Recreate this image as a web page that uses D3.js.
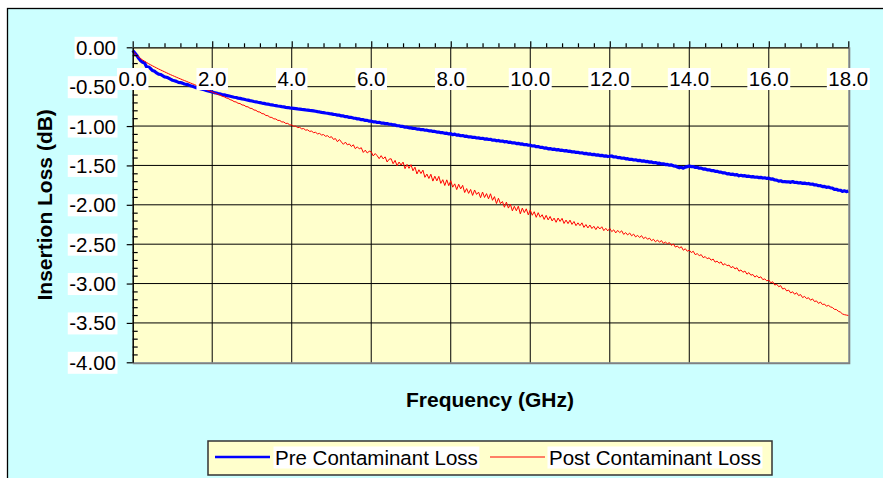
<!DOCTYPE html>
<html>
<head>
<meta charset="utf-8">
<script src="https://cdn.jsdelivr.net/npm/d3@7/dist/d3.min.js"></script>
<style>
  html, body { margin: 0; padding: 0; background: #ffffff; }
  svg { display: block; }
  text { font-family: "Liberation Sans", Arial, sans-serif; fill: #000; }
</style>
</head>
<body>
<svg id="chart" width="883" height="478"></svg>
<script>
// Insertion loss sweep, 0 - 18 GHz, one sample every 0.05 GHz
const freqStart = 0;
const freqStep = 0.05;

const seriesNames = ["Pre Contaminant Loss", "Post Contaminant Loss"];

// Pre contaminant insertion loss (dB)
const preLoss = [
  -0.040,-0.070,-0.100,-0.140,-0.170,-0.190,-0.200,-0.250,-0.250,-0.270,
  -0.295,-0.305,-0.325,-0.340,-0.345,-0.360,-0.375,-0.380,-0.390,-0.405,
  -0.418,-0.425,-0.433,-0.445,-0.448,-0.455,-0.466,-0.470,-0.477,-0.487,
  -0.495,-0.503,-0.512,-0.518,-0.526,-0.533,-0.540,-0.547,-0.554,-0.561,
  -0.568,-0.575,-0.580,-0.587,-0.592,-0.599,-0.604,-0.611,-0.616,-0.622,
  -0.628,-0.634,-0.638,-0.645,-0.649,-0.655,-0.660,-0.666,-0.671,-0.677,
  -0.682,-0.688,-0.692,-0.698,-0.702,-0.708,-0.712,-0.718,-0.722,-0.727,
  -0.731,-0.736,-0.740,-0.745,-0.749,-0.754,-0.757,-0.762,-0.765,-0.770,
  -0.772,-0.775,-0.778,-0.782,-0.785,-0.789,-0.791,-0.795,-0.797,-0.801,
  -0.804,-0.808,-0.812,-0.817,-0.821,-0.826,-0.829,-0.834,-0.837,-0.842,
  -0.845,-0.852,-0.853,-0.862,-0.862,-0.872,-0.872,-0.881,-0.881,-0.891,
  -0.891,-0.899,-0.901,-0.909,-0.910,-0.919,-0.919,-0.929,-0.928,-0.938,
  -0.938,-0.946,-0.946,-0.955,-0.953,-0.962,-0.961,-0.969,-0.968,-0.977,
  -0.977,-0.986,-0.986,-0.996,-0.996,-1.005,-1.005,-1.015,-1.014,-1.023,
  -1.023,-1.030,-1.031,-1.038,-1.038,-1.046,-1.045,-1.053,-1.052,-1.061,
  -1.060,-1.068,-1.068,-1.076,-1.076,-1.084,-1.084,-1.092,-1.091,-1.100,
  -1.097,-1.110,-1.102,-1.116,-1.113,-1.123,-1.121,-1.130,-1.128,-1.138,
  -1.136,-1.145,-1.143,-1.152,-1.150,-1.158,-1.156,-1.165,-1.162,-1.171,
  -1.169,-1.179,-1.177,-1.187,-1.183,-1.193,-1.190,-1.200,-1.196,-1.207,
  -1.204,-1.214,-1.212,-1.222,-1.220,-1.229,-1.227,-1.237,-1.234,-1.244,
  -1.242,-1.253,-1.251,-1.262,-1.260,-1.271,-1.269,-1.280,-1.278,-1.289,
  -1.286,-1.295,-1.293,-1.302,-1.299,-1.308,-1.306,-1.315,-1.312,-1.321,
  -1.319,-1.328,-1.326,-1.335,-1.333,-1.342,-1.340,-1.349,-1.347,-1.356,
  -1.353,-1.363,-1.359,-1.369,-1.366,-1.375,-1.372,-1.381,-1.378,-1.387,
  -1.383,-1.380,-1.393,-1.391,-1.401,-1.399,-1.409,-1.407,-1.416,-1.414,
  -1.424,-1.422,-1.431,-1.429,-1.438,-1.435,-1.445,-1.442,-1.451,-1.449,
  -1.458,-1.456,-1.466,-1.464,-1.473,-1.471,-1.481,-1.479,-1.489,-1.487,
  -1.497,-1.494,-1.505,-1.508,-1.520,-1.530,-1.524,-1.535,-1.522,-1.515,
  -1.508,-1.515,-1.515,-1.525,-1.524,-1.535,-1.534,-1.546,-1.545,-1.556,
  -1.555,-1.565,-1.565,-1.575,-1.575,-1.585,-1.585,-1.595,-1.595,-1.607,
  -1.605,-1.614,-1.611,-1.621,-1.617,-1.632,-1.625,-1.633,-1.630,-1.639,
  -1.637,-1.645,-1.642,-1.650,-1.647,-1.655,-1.652,-1.660,-1.657,-1.665,
  -1.662,-1.673,-1.672,-1.685,-1.687,-1.700,-1.695,-1.707,-1.705,-1.709,
  -1.707,-1.715,-1.705,-1.717,-1.715,-1.723,-1.719,-1.728,-1.724,-1.733,
  -1.729,-1.739,-1.737,-1.748,-1.747,-1.758,-1.757,-1.768,-1.767,-1.778,
  -1.774,-1.785,-1.787,-1.803,-1.803,-1.815,-1.815,-1.830,-1.822,-1.833,
  -1.825
];

// Post contaminant insertion loss (dB)
const postLoss = [
  -0.050,-0.078,-0.102,-0.124,-0.144,-0.161,-0.177,-0.193,-0.208,-0.222,
  -0.236,-0.249,-0.262,-0.275,-0.287,-0.299,-0.311,-0.323,-0.335,-0.347,
  -0.358,-0.369,-0.380,-0.391,-0.401,-0.412,-0.422,-0.432,-0.443,-0.453,
  -0.463,-0.473,-0.484,-0.494,-0.505,-0.515,-0.525,-0.536,-0.546,-0.557,
  -0.567,-0.580,-0.586,-0.600,-0.607,-0.622,-0.628,-0.643,-0.649,-0.665,
  -0.673,-0.690,-0.694,-0.711,-0.714,-0.732,-0.735,-0.753,-0.756,-0.774,
  -0.777,-0.796,-0.800,-0.819,-0.822,-0.842,-0.845,-0.866,-0.868,-0.888,
  -0.891,-0.909,-0.910,-0.928,-0.929,-0.948,-0.948,-0.967,-0.966,-0.986,
  -0.986,-1.003,-1.001,-1.020,-1.016,-1.036,-1.032,-1.052,-1.048,-1.068,
  -1.064,-1.084,-1.079,-1.100,-1.093,-1.114,-1.108,-1.130,-1.122,-1.145,
  -1.135,-1.170,-1.159,-1.199,-1.171,-1.203,-1.232,-1.204,-1.239,-1.227,
  -1.260,-1.238,-1.288,-1.264,-1.290,-1.275,-1.335,-1.306,-1.342,-1.320,
  -1.326,-1.380,-1.349,-1.377,-1.414,-1.376,-1.417,-1.391,-1.456,-1.421,
  -1.415,-1.478,-1.436,-1.504,-1.457,-1.495,-1.458,-1.541,-1.487,-1.537,
  -1.490,-1.568,-1.522,-1.608,-1.555,-1.603,-1.560,-1.651,-1.610,-1.666,
  -1.612,-1.699,-1.637,-1.696,-1.639,-1.728,-1.681,-1.755,-1.683,-1.757,
  -1.695,-1.776,-1.734,-1.807,-1.739,-1.798,-1.753,-1.844,-1.794,-1.855,
  -1.805,-1.881,-1.812,-1.868,-1.839,-1.910,-1.838,-1.907,-1.858,-1.924,
  -1.860,-1.943,-1.896,-1.984,-1.917,-1.985,-1.958,-2.031,-1.966,-2.042,
  -1.992,-2.077,-2.019,-2.076,-2.018,-2.115,-2.042,-2.099,-2.051,-2.128,
  -2.065,-2.133,-2.088,-2.159,-2.100,-2.158,-2.126,-2.186,-2.134,-2.192,
  -2.148,-2.205,-2.169,-2.222,-2.168,-2.211,-2.172,-2.237,-2.194,-2.239,
  -2.195,-2.249,-2.212,-2.265,-2.229,-2.265,-2.229,-2.287,-2.251,-2.294,
  -2.257,-2.301,-2.273,-2.315,-2.276,-2.307,-2.279,-2.328,-2.299,-2.331,
  -2.300,-2.341,-2.318,-2.357,-2.325,-2.353,-2.330,-2.376,-2.353,-2.383,
  -2.358,-2.394,-2.372,-2.408,-2.388,-2.415,-2.392,-2.430,-2.410,-2.438,
  -2.423,-2.456,-2.438,-2.470,-2.447,-2.475,-2.454,-2.490,-2.473,-2.495,
  -2.480,-2.515,-2.497,-2.537,-2.523,-2.550,-2.532,-2.577,-2.558,-2.590,
  -2.575,-2.607,-2.590,-2.633,-2.620,-2.645,-2.633,-2.671,-2.657,-2.685,
  -2.673,-2.704,-2.689,-2.728,-2.715,-2.742,-2.724,-2.766,-2.747,-2.774,
  -2.765,-2.799,-2.783,-2.815,-2.799,-2.843,-2.827,-2.857,-2.841,-2.881,
  -2.861,-2.894,-2.885,-2.918,-2.899,-2.928,-2.914,-2.950,-2.941,-2.966,
  -2.955,-2.990,-2.977,-3.019,-3.009,-3.040,-3.027,-3.070,-3.059,-3.094,
  -3.083,-3.119,-3.104,-3.136,-3.117,-3.153,-3.140,-3.178,-3.163,-3.191,
  -3.180,-3.212,-3.195,-3.229,-3.220,-3.252,-3.235,-3.267,-3.260,-3.288,
  -3.277,-3.296,-3.304,-3.327,-3.330,-3.352,-3.362,-3.385,-3.395,-3.400,
  -3.405
];

// Axis ticks
const xTicks = [0, 2, 4, 6, 8, 10, 12, 14, 16, 18];
const xTickLabels = ["0.0", "2.0", "4.0", "6.0", "8.0", "10.0", "12.0", "14.0", "16.0", "18.0"];
const yTicks = [0, -0.5, -1, -1.5, -2, -2.5, -3, -3.5, -4];
const yTickLabels = ["0.00", "-0.50", "-1.00", "-1.50", "-2.00", "-2.50", "-3.00", "-3.50", "-4.00"];
const xMinorStep = 0.4;
const yMinorStep = 0.1;

const xTitle = "Frequency (GHz)";
const yTitle = "Insertion Loss (dB)";

const colors = ["#0000ff", "#ff0000"];
const widths = [3.2, 1];

// ---- layout ----
const svg = d3.select("#chart");
const plot = { left: 132.7, right: 848.3, top: 47.3, bottom: 362.3 };

const x = d3.scaleLinear().domain([0, 18]).range([plot.left, plot.right]);
const y = d3.scaleLinear().domain([-4, 0]).range([plot.bottom, plot.top]);

// chart area
svg.append("rect")
  .attr("x", 7.5).attr("y", 8.5).attr("width", 900).attr("height", 500)
  .attr("fill", "#ccffff").attr("stroke", "#000").attr("stroke-width", 1.3);

// plot area
svg.append("rect")
  .attr("x", plot.left).attr("y", plot.top)
  .attr("width", plot.right - plot.left).attr("height", plot.bottom - plot.top)
  .attr("fill", "#ffffcc");
svg.append("path")
  .attr("d", `M${plot.left},${plot.bottom + 1}H${plot.right + 1}V${plot.top}`)
  .attr("fill", "none").attr("stroke", "#808080").attr("stroke-width", 2);

// gridlines
const grid = svg.append("g");
grid.selectAll("line.h").data(yTicks.slice(1, -1)).join("line")
  .attr("x1", plot.left).attr("x2", plot.right)
  .attr("y1", d => y(d)).attr("y2", d => y(d))
  .attr("stroke", "#000").attr("stroke-width", 1);
grid.selectAll("line.v").data(xTicks.slice(1, -1)).join("line")
  .attr("y1", plot.top).attr("y2", plot.bottom)
  .attr("x1", d => x(d)).attr("x2", d => x(d))
  .attr("stroke", "#000").attr("stroke-width", 1);

// series lines
const freqs = d3.range(preLoss.length).map(i => freqStart + i * freqStep);
const line = d3.line().x((d, i) => x(freqs[i])).y(d => y(d));
[preLoss, postLoss].forEach((s, k) => {
  svg.append("path")
    .datum(s)
    .attr("d", line)
    .attr("fill", "none")
    .attr("stroke", colors[k])
    .attr("stroke-width", widths[k])
    .attr("stroke-linejoin", "round");
});

// y axis: major ticks outward, minor ticks inward
const yMinor = d3.range(0, -4.0001, -yMinorStep).map(v => +v.toFixed(2))
  .filter(v => !yTicks.some(t => Math.abs(t - v) < 1e-6));
const yAxis = svg.append("g").attr("transform", `translate(${plot.left},0)`);
yAxis.call(d3.axisLeft(y).tickValues(yTicks).tickSize(6).tickSizeOuter(0).tickFormat(""));
yAxis.append("g").call(d3.axisLeft(y).tickValues(yMinor).tickSize(-5).tickSizeOuter(0).tickFormat(""));
yAxis.selectAll("path.domain").attr("stroke", "#000").attr("stroke-width", 1.5);
yAxis.selectAll("line").attr("stroke", "#000").attr("stroke-width", 1.2);
yAxis.selectAll("g g path.domain").remove();

// x axis along 0 dB: ticks point upward
const xMinor = d3.range(0, 18.0001, xMinorStep).map(v => +v.toFixed(2))
  .filter(v => !xTicks.some(t => Math.abs(t - v) < 1e-6));
const xAxis = svg.append("g").attr("transform", `translate(0,${y(0)})`);
xAxis.call(d3.axisTop(x).tickValues(xTicks).tickSize(6).tickSizeOuter(0).tickFormat(""));
xAxis.append("g").call(d3.axisTop(x).tickValues(xMinor).tickSize(4).tickSizeOuter(0).tickFormat(""));
xAxis.selectAll("path.domain").attr("stroke", "#000").attr("stroke-width", 1.3);
xAxis.selectAll("line").attr("stroke", "#000").attr("stroke-width", 1.2);
xAxis.selectAll("g g path.domain").remove();

// text with a white backing box
function label(g, txt, px, py, anchor, opts = {}) {
  const t = g.append("text")
    .attr("x", px).attr("y", py)
    .attr("text-anchor", anchor)
    .attr("dominant-baseline", "central")
    .style("font-size", (opts.size || 20.5) + "px")
    .style("font-weight", opts.bold ? "bold" : "normal")
    .text(txt);
  if (opts.rotate) t.attr("transform", `rotate(-90,${px},${py})`);
  if (opts.box) {
    const b = t.node().getBBox();
    g.insert("rect", () => t.node())
      .attr("x", b.x - 1.5).attr("y", b.y + 1)
      .attr("width", b.width + 3).attr("height", b.height - 1)
      .attr("fill", "#ffffff");
  }
  return t;
}

const labels = svg.append("g");
xTicks.forEach((v, i) => label(labels, xTickLabels[i], x(v), 78.5, "middle", { box: true }));
yTicks.forEach((v, i) => label(labels, yTickLabels[i], 116, y(v), "end", { box: true }));

// axis titles
label(labels, xTitle, 490, 399, "middle", { bold: true, size: 21 });
label(labels, yTitle, 45, (plot.top + plot.bottom) / 2, "middle", { bold: true, rotate: true, size: 21 });

// legend
const legend = svg.append("g");
legend.append("rect")
  .attr("x", 208).attr("y", 441).attr("width", 564).attr("height", 34)
  .attr("fill", "#ffffcc").attr("stroke", "#333").attr("stroke-width", 1.5);
const legendX = [[215, 270, 275], [490, 545, 549]];
seriesNames.forEach((name, k) => {
  legend.append("line")
    .attr("x1", legendX[k][0]).attr("x2", legendX[k][1])
    .attr("y1", 457).attr("y2", 457)
    .attr("stroke", colors[k]).attr("stroke-width", k === 0 ? 2.5 : 1);
  label(legend, name, legendX[k][2], 457, "start", { box: true });
});
</script>
</body>
</html>
